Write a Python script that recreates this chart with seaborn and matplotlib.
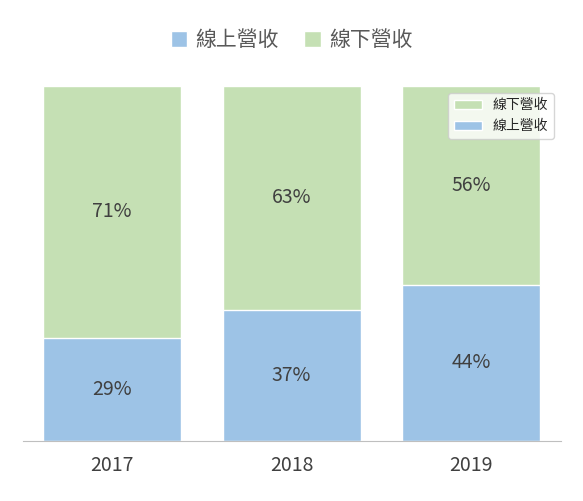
import matplotlib
matplotlib.use("Agg")
import matplotlib.pyplot as plt
import seaborn as sns
import pandas as pd

years = ["2017", "2018", "2019"]
online = [29, 37, 44]
offline = [71, 63, 56]
series_names = ["線上營收", "線下營收"]

sns.set_style("white")
plt.rcParams['font.family'] = ['Noto Sans CJK TC', 'DejaVu Sans']

fig = plt.figure(figsize=(5.83, 5.01), dpi=100)
ax = fig.add_axes([0.0386, 0.1198, 0.923, 0.7086])

df = pd.DataFrame({"year": years, "online": online, "total": [a + b for a, b in zip(online, offline)]})
sns.barplot(data=df, x="year", y="total", color="#C5E0B4", width=0.77, ax=ax, saturation=1, label=series_names[1])
sns.barplot(data=df, x="year", y="online", color="#9DC3E6", width=0.77, ax=ax, saturation=1, label=series_names[0])

for i, (a, b) in enumerate(zip(online, offline)):
    ax.text(i, a / 2, f"{a}%", ha="center", va="center", fontsize=14, color="#404040")
    ax.text(i, a + b / 2, f"{b}%", ha="center", va="center", fontsize=14, color="#404040")

ax.set_ylim(0, 100)
ax.set_xlim(-0.5, 2.5)
ax.set_xlabel("")
ax.set_ylabel("")
ax.set_yticks([])
for s in ["top", "left", "right"]:
    ax.spines[s].set_visible(False)
ax.spines["bottom"].set_color("#BFBFBF")
ax.tick_params(axis="x", labelsize=14, colors="#404040", length=0, pad=10)

h, l = ax.get_legend_handles_labels()
order = [l.index(series_names[0]), l.index(series_names[1])]
fig.legend([h[k] for k in order], [l[k] for k in order], loc="center", bbox_to_anchor=(0.5, 0.92),
           ncol=2, frameon=False, fontsize=15, handlelength=0.8, handleheight=0.8,
           columnspacing=1.2, handletextpad=0.4, labelcolor="#595959")

fig.savefig("out.png", dpi=100)
